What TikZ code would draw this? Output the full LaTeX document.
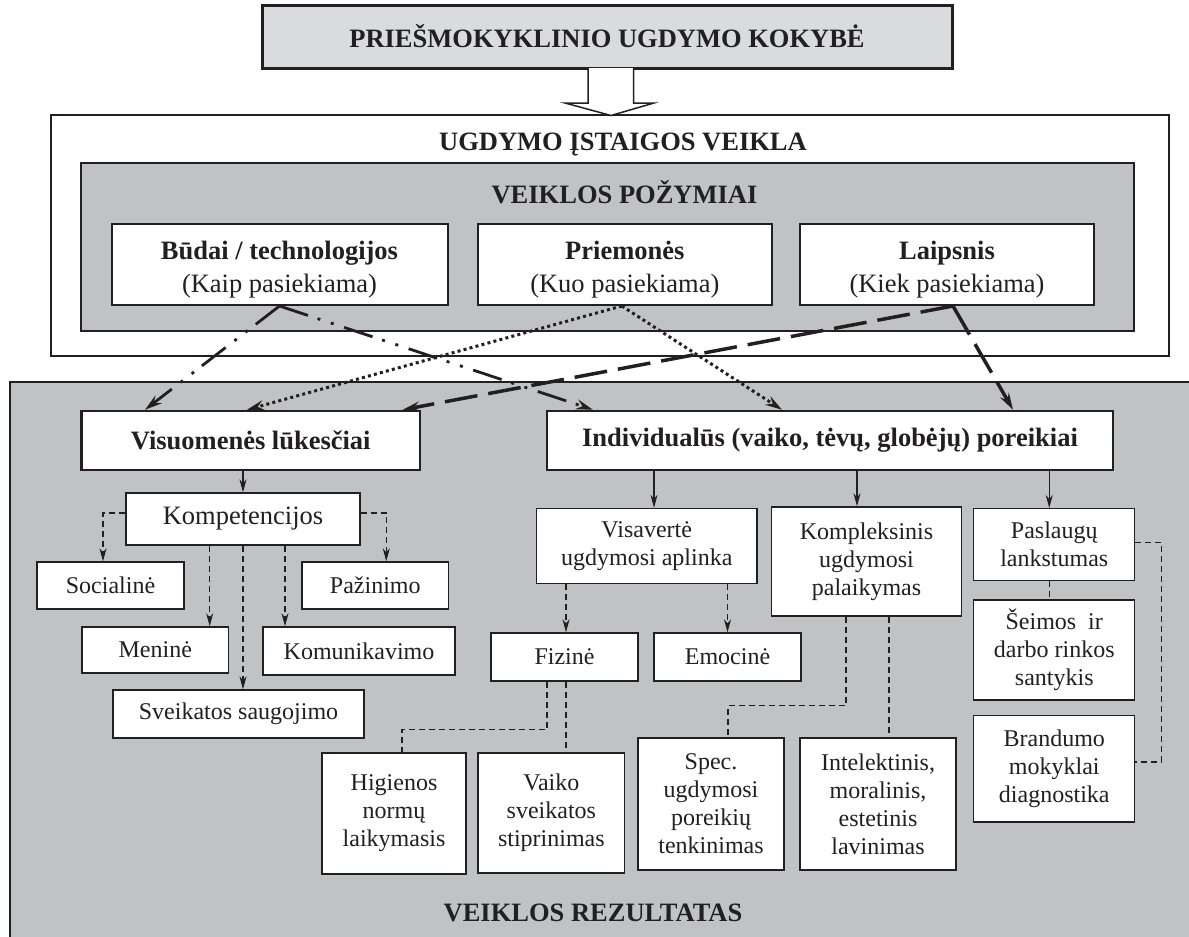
\documentclass[tikz,border=0pt]{standalone}
\usepackage{fontspec}
\setmainfont{Liberation Serif}
\usetikzlibrary{arrows.meta}
\definecolor{grayA}{RGB}{192,195,198}
\definecolor{grayB}{RGB}{217,220,223}
\definecolor{ink}{RGB}{35,31,32}
\tikzset{
  bigb/.style={font=\fontsize{26.5}{32}\selectfont\bfseries, text=ink, inner sep=0pt},
  wb/.style={draw=ink, fill=white, line width=2pt, align=center, inner sep=0pt, text=ink},
  wtxt/.style={align=center, inner sep=0pt, text=ink, font=\fontsize{26.5}{32.5}\selectfont},
  sb/.style={draw=ink, fill=white, line width=1.4pt, align=center, inner sep=0pt, text=ink, font=\fontsize{24}{28}\selectfont},
  dsh/.style={draw=ink, line width=1.3pt, dash pattern=on 6pt off 4pt},
  sol/.style={draw=ink, line width=1.3pt},
  tip/.style={-{Stealth[length=13pt,width=7pt,inset=4pt]}},
  bigtip/.style={-{Stealth[length=17pt,width=10pt,inset=6pt]}},
  ddot/.style={draw=ink, line width=2.8pt, dash pattern=on 30pt off 10pt on 3pt off 11pt on 3pt off 11pt},
  dotl/.style={draw=ink, line width=3pt, dash pattern=on 3pt off 3.2pt},
  ldash/.style={draw=ink, line width=3.5pt, dash pattern=on 33pt off 11pt},
}
\begin{document}
\begin{tikzpicture}[x=1pt,y=-1pt]
\clip (0,0) rectangle (1189,937);
\fill[white] (0,0) rectangle (1189,937);

% bottom grey region
\fill[grayA] (10,382) rectangle (1195,945);
\draw[ink, line width=2.5pt] (10,945) -- (10,382) -- (1195,382);

% top box
\node[draw=ink, line width=3pt, fill=grayB, minimum width=690pt, minimum height=63pt, bigb] (top) at (607,36.5) {PRIEŠMOKYKLINIO UGDYMO KOKYBĖ};

% outer white box
\node[draw=ink, line width=2.5pt, fill=white, minimum width=1118pt, minimum height=241pt, inner sep=0pt] (outer) at (610,235.5) {};
\node[bigb] (outert) at (623,145) {UGDYMO ĮSTAIGOS VEIKLA};

% hollow arrow
\draw[ink, line width=1.5pt, fill=white, line join=miter] (588,68) -- (588,103) -- (565,103) -- (611,115.5) -- (654,103) -- (633.5,103) -- (633.5,68);

% grey inner box
\node[draw=ink, line width=2.5pt, fill=grayA, minimum width=1053pt, minimum height=168pt, inner sep=0pt] (gray) at (607.7,247) {};
\node[bigb] (grayt) at (624.5,192) {VEIKLOS POŽYMIAI};

% three top boxes
\node[wb, minimum width=336pt, minimum height=81pt] (budai) at (279.5,264.5) {};
\node[wtxt] (budait) at ([yshift=-5pt]budai.center) {\textbf{Būdai / technologijos}\\(Kaip pasiekiama)};
\node[wb, minimum width=293.6pt, minimum height=81pt] (priem) at (624.8,264.5) {};
\node[wtxt] (priemt) at ([yshift=-5pt]priem.center) {\textbf{Priemonės}\\(Kuo pasiekiama)};
\node[wb, minimum width=294pt, minimum height=81pt] (laip) at (947,264.5) {};
\node[wtxt] (laipt) at ([yshift=-5pt]laip.center) {\textbf{Laipsnis}\\(Kiek pasiekiama)};

% second-level boxes
\node[wb, line width=2.5pt, minimum width=338.5pt, minimum height=59pt, font=\fontsize{26.5}{32}\selectfont\bfseries] (vis) at (250.75,440.5) {Visuomenės lūkesčiai};
\node[wb, line width=2.5pt, minimum width=566pt, minimum height=59pt, font=\fontsize{26.5}{32}\selectfont\bfseries] (ind) at (830,440.5) {Individualūs (vaiko, tėvų, globėjų) poreikiai};

% crossing connectors
\draw[ddot, bigtip] (budai.south) -- ([xshift=-105.75pt]vis.north);
\draw[ddot, bigtip] (budai.south) -- ([xshift=-237pt]ind.north);
\draw[dotl, bigtip] ([xshift=-3pt]priem.south) -- ([xshift=-3.75pt]vis.north);
\draw[dotl, bigtip] ([xshift=-3pt]priem.south) -- ([xshift=-48pt]ind.north);
\draw[ldash, bigtip] ([xshift=6pt]laip.south) -- ([xshift=152pt]vis.north);
\draw[ldash, bigtip] ([xshift=6pt]laip.south) -- ([xshift=183pt]ind.north);

% left branch
\node[sb, font=\fontsize{26.5}{30}\selectfont, minimum width=234pt, minimum height=52pt] (komp) at (243,519) {Kompetencijos};
\node[sb, minimum width=147pt, minimum height=47pt] (soc) at (110.5,585.5) {Socialinė};
\node[sb, minimum width=146.5pt, minimum height=47pt] (paz) at (375.25,585.5) {Pažinimo};
\node[sb, minimum width=146.5pt, minimum height=46pt] (men) at (155.25,650) {Meninė};
\node[sb, minimum width=192pt, minimum height=48pt] (kom) at (359,651) {Komunikavimo};
\node[sb, minimum width=251pt, minimum height=48pt] (sve) at (238.5,714) {Sveikatos saugojimo};

\draw[sol, tip] (komp.north |- vis.south) -- (komp.north);
\draw[dsh, tip] ([yshift=6pt]komp.west) -| ([xshift=-7.5pt]soc.north);
\draw[dsh, tip] ([yshift=6pt]komp.east) -| ([xshift=11pt]paz.north);
\draw[dsh, tip] ([xshift=-33.3pt]komp.south) -- ([xshift=-33.3pt]komp.south |- men.north);
\draw[dsh, tip] (komp.south) -- (komp.south |- sve.north);
\draw[dsh, tip] ([xshift=42pt]komp.south) -- ([xshift=42pt]komp.south |- kom.north);

% right branch
\node[sb, minimum width=220.5pt, minimum height=75pt] (visav) at (646.75,546) {Visavertė\\ugdymosi aplinka};
\node[sb, minimum width=190pt, minimum height=109pt] (kompl) at (866.5,561.5) {Kompleksinis\\ugdymosi\\palaikymas};
\node[sb, minimum width=161pt, minimum height=72pt] (pasl) at (1054.25,544.65) {Paslaugų\\lankstumas};
\node[sb, minimum width=161pt, minimum height=100pt] (seim) at (1054.25,650) {Šeimos\ \ ir\\darbo rinkos\\santykis};
\node[sb, minimum width=161pt, minimum height=106.3pt] (bran) at (1054.25,768.85) {Brandumo\\mokyklai\\diagnostika};
\node[sb, minimum width=147pt, minimum height=48pt] (fiz) at (564.5,657) {Fizinė};
\node[sb, minimum width=147pt, minimum height=48pt] (emo) at (727.5,657) {Emocinė};
\node[sb, minimum width=144pt, minimum height=121pt] (hig) at (394,813.5) {Higienos\\normų\\laikymasis};
\node[sb, minimum width=146.7pt, minimum height=120pt] (vai) at (551.35,813) {Vaiko\\sveikatos\\stiprinimas};
\node[sb, minimum width=146pt, minimum height=132pt] (spec) at (711,804) {Spec.\\ugdymosi\\poreikių\\tenkinimas};
\node[sb, minimum width=156pt, minimum height=132pt] (int) at (878,804) {Intelektinis,\\moralinis,\\estetinis\\lavinimas};

\draw[sol, tip] ([xshift=7.25pt]visav.north |- ind.south) -- ([xshift=7.25pt]visav.north);
\draw[sol, tip] ([xshift=-9.5pt]kompl.north |- ind.south) -- ([xshift=-9.5pt]kompl.north);
\draw[sol, tip] ([xshift=-5pt]pasl.north |- ind.south) -- ([xshift=-5pt]pasl.north);

\draw[dsh, tip] ([xshift=1.5pt]fiz.north |- visav.south) -- ([xshift=1.5pt]fiz.north);
\draw[dsh, tip] (emo.north |- visav.south) -- (emo.north);
\draw[dsh] ([xshift=-17.5pt]fiz.south) -- ++(0,48) -| ([xshift=8pt]hig.north);
\draw[dsh] ([xshift=1.5pt]fiz.south) -- ([xshift=1.5pt]fiz.south |- vai.north);
\draw[dsh] ([xshift=-20.5pt]kompl.south) -- ++(0,89) -| ([xshift=17pt]spec.north);
\draw[dsh] ([xshift=22.5pt]kompl.south) -- ([xshift=22.5pt]kompl.south |- int.north);
\draw[dsh] ([xshift=-4.5pt]pasl.south) -- ([xshift=-4.5pt]pasl.south |- seim.north);
\draw[dsh] ([yshift=2.3pt]pasl.east) -- ++(26,0) |- ([yshift=6.85pt]bran.east);

\node[bigb] (res) at (593,913) {VEIKLOS REZULTATAS};
\end{tikzpicture}
\end{document}
